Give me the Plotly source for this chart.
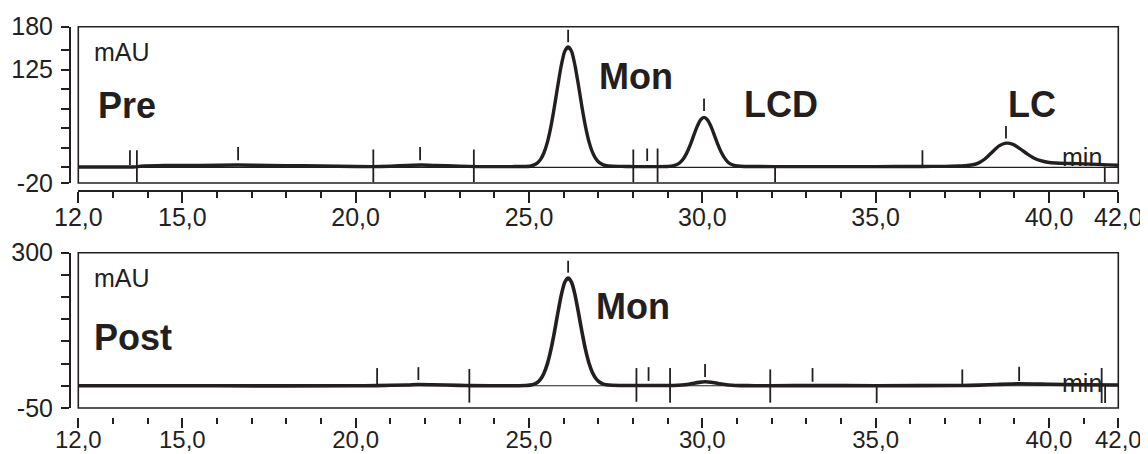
import plotly.graph_objects as go

# ---------------- data ----------------
# Pre chromatogram (time in min, absorbance in mAU)
pre_t = [12.0, 13.0, 13.6, 13.8, 14.5, 15.5, 16.6, 17.5, 18.5, 19.5, 20.5, 21.0, 21.5, 21.9,
         22.3, 23.0, 23.5, 24.5, 25.03, 25.13, 25.23, 25.33, 25.43, 25.53, 25.63, 25.73,
         25.83, 25.93, 26.03, 26.13, 26.23, 26.33, 26.43, 26.53, 26.63, 26.73, 26.83, 26.93,
         27.03, 27.13, 27.23, 27.4, 27.8, 28.0, 28.7, 29.0, 29.15, 29.25, 29.35, 29.45, 29.55,
         29.65, 29.75, 29.85, 29.95, 30.05, 30.15, 30.25, 30.35, 30.45, 30.55, 30.65, 30.75,
         30.85, 30.95, 31.1, 31.4, 32.0, 33.5, 35.0, 36.35, 37.0, 37.4, 37.56, 37.76, 37.96,
         38.16, 38.36, 38.56, 38.76, 38.96, 39.16, 39.36, 39.56, 39.76, 39.96, 40.2, 40.6,
         41.0, 41.4, 41.7, 42.0]
pre_v = [0.5, 0.5, 0.5, 1.5, 2.5, 2.5, 3.0, 2.5, 2.0, 1.5, 1.0, 1.5, 2.5, 3.0,
         2.5, 1.5, 1.0, 1.0, 1.5, 2.8, 5.2, 9.9, 18.4, 32.0, 51.6, 76.5,
         104.0, 130.0, 148.3, 154.0, 148.3, 130.0, 104.5, 77.0, 52.5, 33.0, 19.5, 11.0,
         6.0, 3.5, 2.2, 1.5, 1.2, 1.0, 1.0, 1.2, 1.9, 3.3, 5.9, 10.7, 18.2,
         28.4, 40.5, 52.2, 60.8, 64.0, 60.8, 52.4, 41.0, 29.0, 19.0, 11.5, 6.3,
         3.6, 2.2, 1.5, 1.1, 1.0, 1.0, 1.0, 1.2, 1.3, 1.8, 2.2, 3.0, 5.5,
         11.0, 19.5, 27.5, 31.0, 29.5, 24.0, 17.5, 12.0, 8.5, 6.5, 5.5, 5.0,
         4.5, 3.8, 3.2, 2.8]

# Post chromatogram
post_t = [12.0, 16.0, 20.0, 20.6, 21.5, 21.8, 22.2, 23.0, 23.3, 24.9, 25.03, 25.13, 25.23,
          25.33, 25.43, 25.53, 25.63, 25.73, 25.83, 25.93, 26.03, 26.13, 26.23, 26.33,
          26.43, 26.53, 26.63, 26.73, 26.83, 26.93, 27.03, 27.13, 27.23, 27.4, 27.8, 28.1,
          28.5, 29.0, 29.3, 29.5, 29.7, 29.9, 30.08, 30.25, 30.45, 30.65, 30.85, 31.1, 31.5,
          32.0, 33.2, 35.0, 37.5, 38.0, 38.5, 39.1, 40.0, 41.0, 42.0]
post_v = [0.0, 0.0, 0.0, 0.5, 2.0, 3.0, 2.5, 1.0, 0.5, 0.6, 1.6, 3.3, 7.0,
          14.5, 28.0, 49.5, 80.5, 119.5, 163.0, 204.0, 233.0, 243.0, 233.0, 204.5,
          164.0, 121.0, 82.0, 51.5, 30.0, 16.5, 8.5, 4.5, 2.5, 1.3, 0.8, 0.6,
          0.6, 0.6, 1.2, 2.4, 5.0, 7.8, 9.0, 8.0, 5.4, 2.8, 1.2, 0.5, 0.3,
          0.2, 0.5, 0.3, 0.8, 1.5, 3.0, 4.5, 3.5, 2.5, 2.0]

# integration / peak marks: time, lower end, upper end (mAU)
pre_mark_t = [13.49, 13.69, 16.61, 20.51, 21.86, 23.41, 26.13, 28.01, 28.41, 28.71,
              30.05, 32.10, 36.35, 38.76, 41.61]
pre_mark_lo = [3, -19, 9, -19, 9, -19, 160, -19, 8, -19, 72, -19, 3, 37, -19]
pre_mark_hi = [22, 22, 26, 23, 26, 23, 176, 23, 24, 24, 88, 1, 22, 53, 1]

post_mark_t = [20.62, 21.81, 23.28, 26.13, 28.10, 28.45, 29.07, 30.08, 31.96, 33.18,
               35.03, 37.50, 39.14, 41.52, 41.62]
post_mark_lo = [4, 13, -38, 255, -36, 11, -38, 20, -38, 9, -39, 2, 11, -39, -39]
post_mark_hi = [40, 42, 38, 282, 40, 42, 40, 49, 37, 40, -2, 37, 43, 40, 0]

# axis ticks
x_major = [12, 15, 20, 25, 30, 35, 40, 42]
x_labels = ["12,0", "15,0", "20,0", "25,0", "30,0", "35,0", "40,0", "42,0"]
pre_yticks = [-20, 0, 25, 50, 75, 100, 125, 150, 180]
pre_ylabels = ["-20", "", "", "", "", "", "125", "", "180"]
post_yticks = [-50, 0, 50, 100, 150, 200, 250, 300]
post_ylabels = ["-50", "", "", "", "", "", "", "300"]

# ---------------- figure ----------------
# the page adds an 8 px body margin, so the figure is 8 px smaller and
# every reference pixel position is shifted by that margin
OFF = 8
W, H = 1148 - OFF, 454 - OFF
INK = "#231f20"
FONT = "Liberation Sans, Arial, Helvetica, sans-serif"


def px_x(p):
    return (p - OFF) / W


def px_y(p):
    return 1 - (p - OFF) / H


def seg(ts, lo, hi):
    xs, ys = [], []
    for t, a, b in zip(ts, lo, hi):
        xs += [t, t, None]
        ys += [a, b, None]
    return xs, ys


fig = go.Figure()
fig.add_trace(go.Scatter(x=pre_t, y=pre_v, mode="lines",
                         line=dict(color=INK, width=3.4, shape="spline", smoothing=0.6),
                         xaxis="x", yaxis="y", showlegend=False, hoverinfo="skip"))
mx, my = seg(pre_mark_t, pre_mark_lo, pre_mark_hi)
fig.add_trace(go.Scatter(x=mx, y=my, mode="lines", line=dict(color=INK, width=1.8),
                         xaxis="x", yaxis="y", showlegend=False, hoverinfo="skip"))
fig.add_trace(go.Scatter(x=post_t, y=post_v, mode="lines",
                         line=dict(color=INK, width=3.6, shape="spline", smoothing=0.6),
                         xaxis="x2", yaxis="y2", showlegend=False, hoverinfo="skip"))
mx2, my2 = seg(post_mark_t, post_mark_lo, post_mark_hi)
fig.add_trace(go.Scatter(x=mx2, y=my2, mode="lines", line=dict(color=INK, width=1.8),
                         xaxis="x2", yaxis="y2", showlegend=False, hoverinfo="skip"))

xdom = [px_x(78.3), px_x(1118.3)]
top_dom = [px_y(183), px_y(26.7)]
bot_dom = [px_y(408), px_y(252.7)]

tickfont = dict(family=FONT, size=25, color=INK)

common_x = dict(range=[12, 42], domain=xdom, anchor="free", tickmode="array",
                tickvals=x_major, ticktext=x_labels, ticks="outside", tickwidth=1.8,
                tickcolor=INK, tickfont=tickfont, showgrid=False, zeroline=False,
                automargin=False, fixedrange=True,
                minor=dict(tickmode="linear", tick0=12, dtick=1, ticks="outside",
                           ticklen=6, tickwidth=1.8, tickcolor=INK, showgrid=False))

fig.update_layout(
    width=W, height=H, margin=dict(l=0, r=0, t=0, b=0, autoexpand=False),
    paper_bgcolor="white", plot_bgcolor="white", template="none",
    showlegend=False,
    xaxis=dict(common_x, position=px_y(190.7), showline=True, linecolor=INK, linewidth=2,
               ticklen=11, ticklabelstandoff=-7),
    xaxis2=dict(common_x, position=px_y(417), showline=False, ticklen=10,
                ticklabelstandoff=-9, tickfont=dict(family=FONT, size=24, color=INK)),
    yaxis=dict(range=[-20, 180], domain=top_dom, anchor="free", position=px_x(70),
               tickmode="array", tickvals=pre_yticks, ticktext=pre_ylabels,
               ticks="outside", ticklen=8, tickwidth=1.8, tickcolor=INK, tickfont=tickfont,
               showline=True, linecolor=INK, linewidth=2, showgrid=False, zeroline=False,
               automargin=False, ticklabelstandoff=3, fixedrange=True),
    yaxis2=dict(range=[-50, 300], domain=bot_dom, anchor="free", position=px_x(70),
                tickmode="array", tickvals=post_yticks, ticktext=post_ylabels,
                ticks="outside", ticklen=8, tickwidth=1.8, tickcolor=INK, tickfont=tickfont,
                showline=True, linecolor=INK, linewidth=2, showgrid=False, zeroline=False,
                automargin=False, ticklabelstandoff=3, fixedrange=True),
)

shapes = []
for xr, yr in (("x", "y"), ("x2", "y2")):
    shapes.append(dict(type="rect", xref=f"{xr} domain", yref=f"{yr} domain", x0=0, x1=1, y0=0, y1=1,
                       line=dict(color=INK, width=1.6), layer="above"))
    shapes.append(dict(type="line", xref=f"{xr} domain", yref=yr, x0=0, x1=1, y0=0, y1=0,
                       line=dict(color=INK, width=1.1), layer="below"))
fig.update_layout(shapes=shapes)

ann = []


def txt(s, x, y, size, bold=False, xanchor="left"):
    ann.append(dict(text=f"<b>{s}</b>" if bold else s, x=x, y=y, xref="paper", yref="paper",
                    xanchor=xanchor, yanchor="middle", showarrow=False,
                    font=dict(family=FONT, size=size, color=INK)))


txt("mAU", px_x(92), px_y(52), 25)
txt("Pre", px_x(96), px_y(106), 36, bold=True)
txt("Mon", px_x(597), px_y(76), 36, bold=True)
txt("LCD", px_x(742), px_y(105), 36, bold=True)
txt("LC", px_x(1006), px_y(105), 36, bold=True)
txt("min", px_x(1104), px_y(156.6), 25, xanchor="right")

txt("mAU", px_x(92), px_y(278), 25)
txt("Post", px_x(92), px_y(337.5), 36, bold=True)
txt("Mon", px_x(594), px_y(306.5), 36, bold=True)
txt("min", px_x(1104), px_y(383.3), 25, xanchor="right")
fig.update_layout(annotations=ann)

fig.write_html("out.html")
